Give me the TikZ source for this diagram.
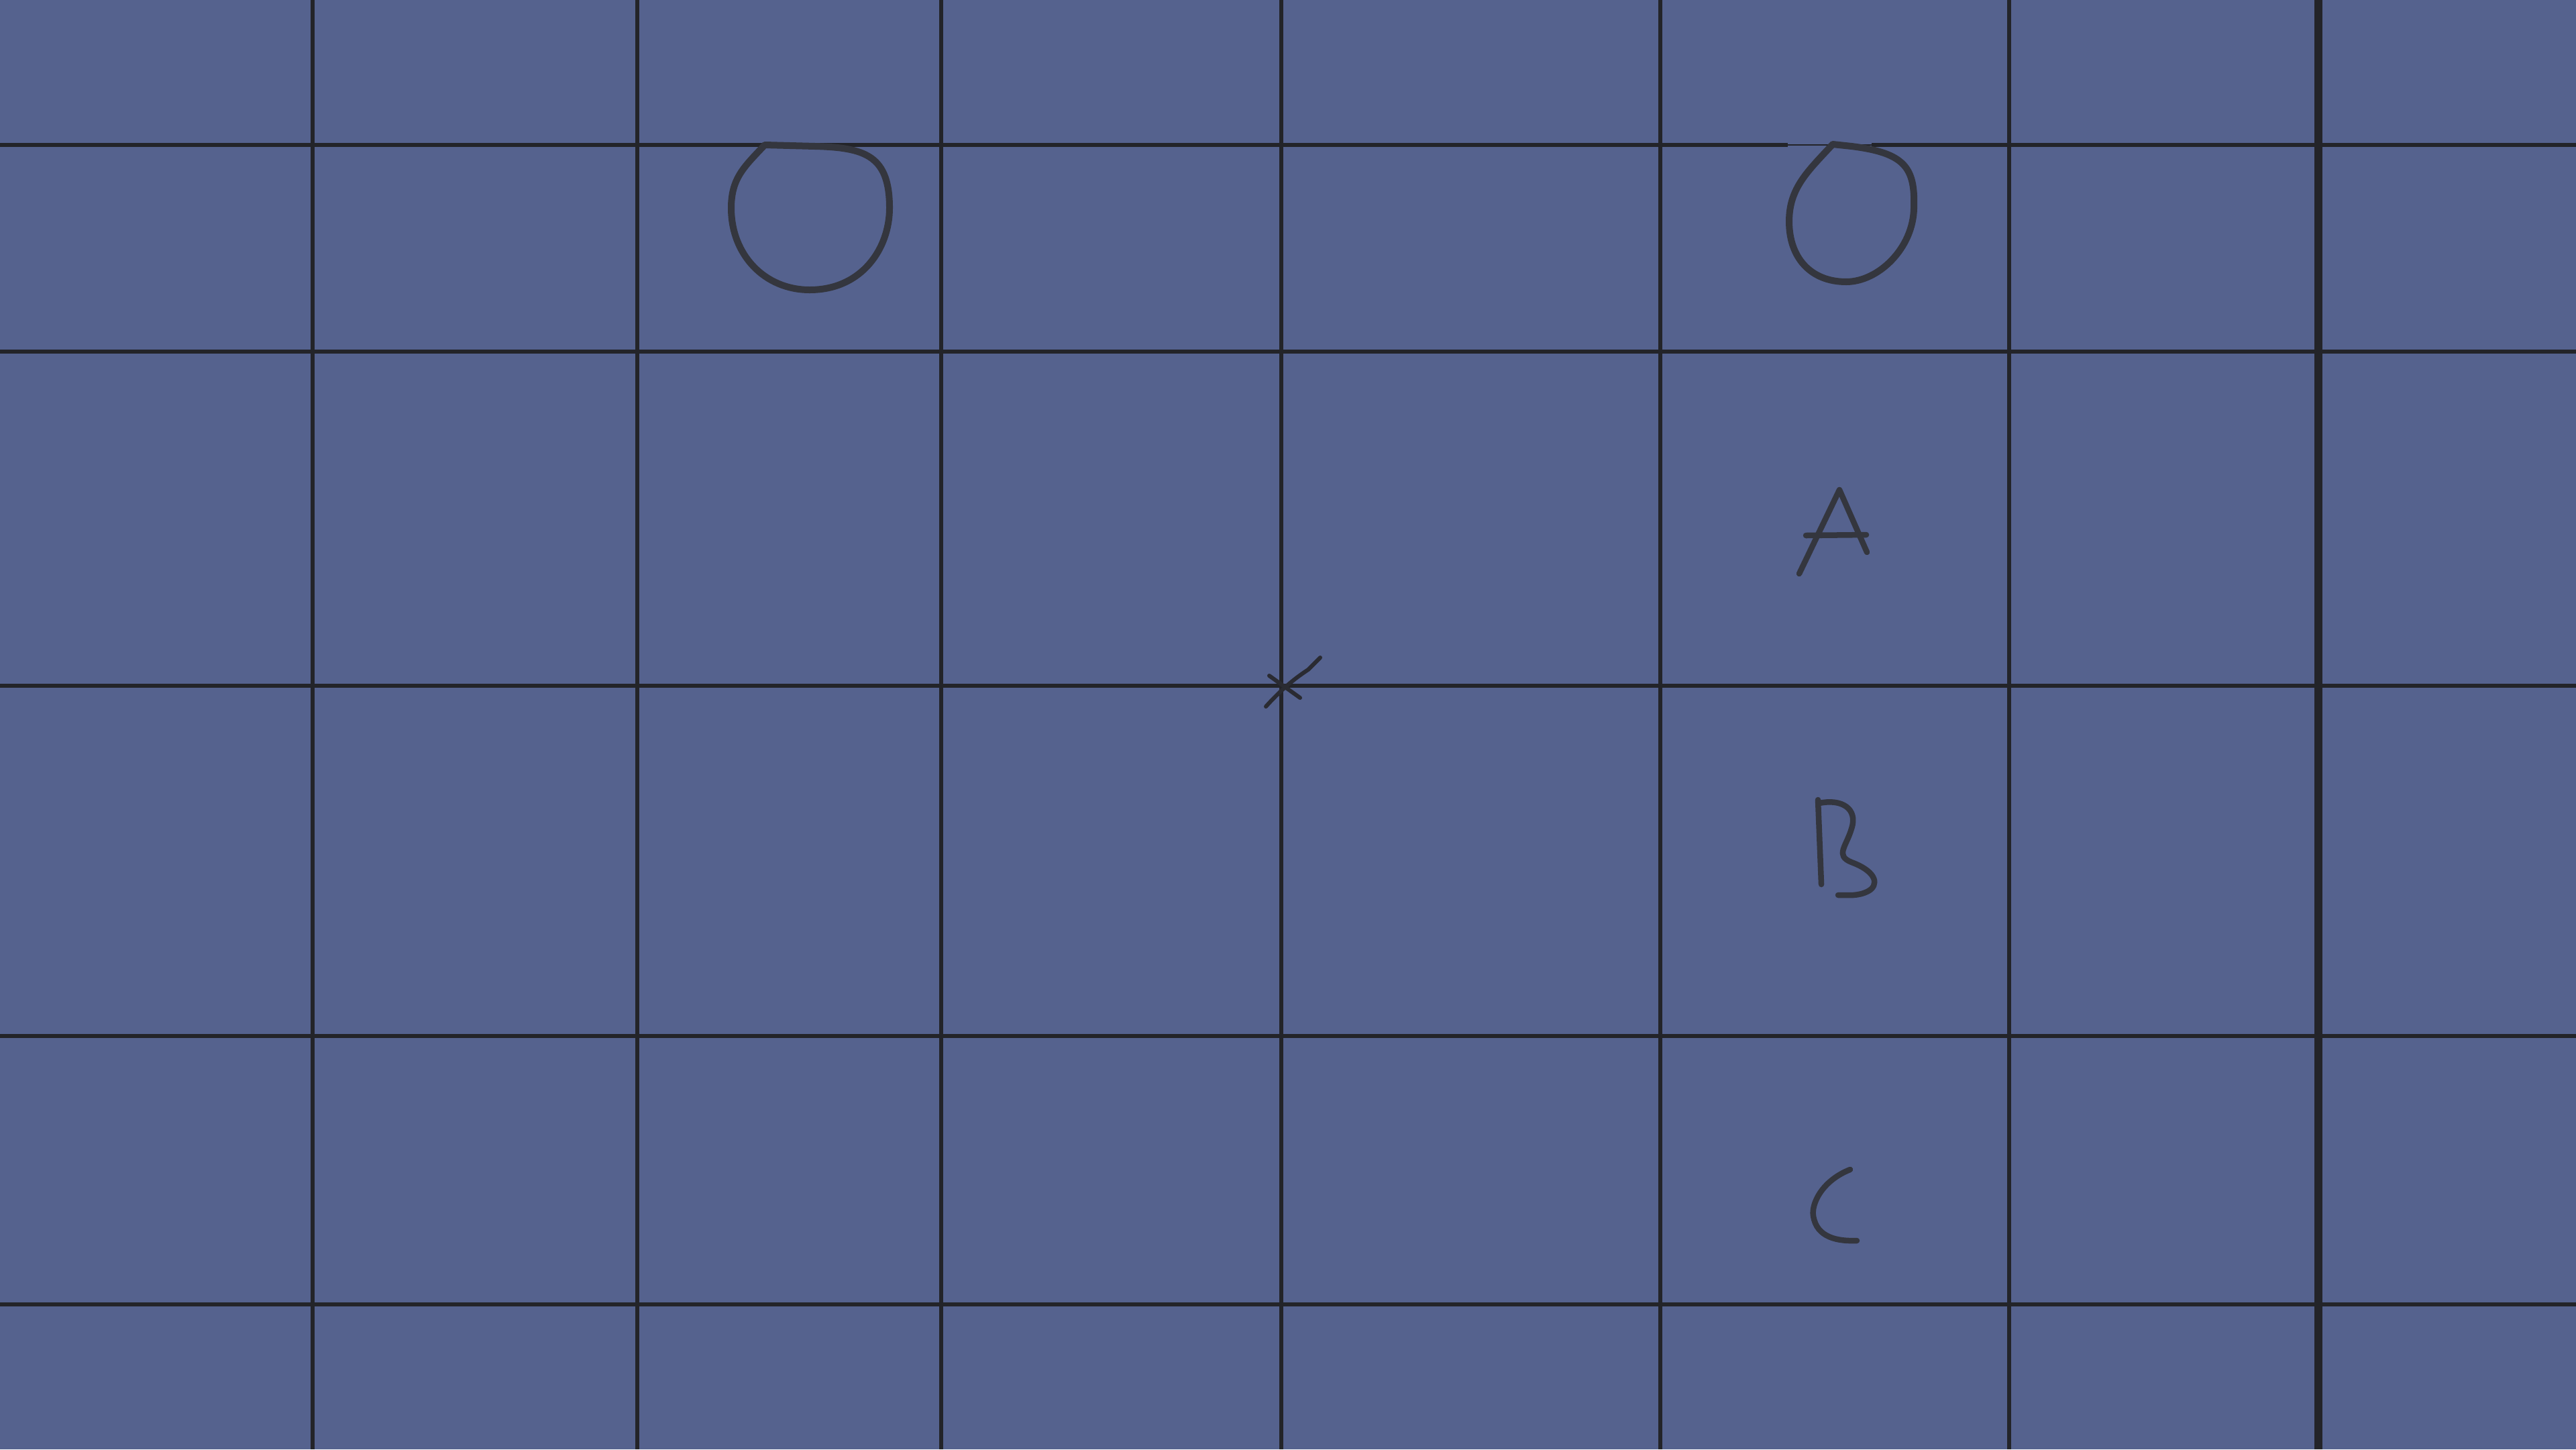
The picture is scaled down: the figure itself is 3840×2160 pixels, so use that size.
\documentclass[tikz,border=0pt]{standalone}
\definecolor{bg}{RGB}{85,98,142}
\definecolor{gridc}{RGB}{35,36,41}
\definecolor{ink}{RGB}{52,54,62}
\begin{document}
\begin{tikzpicture}[x=0.01cm,y=-0.01cm,
  gridline/.style={draw=gridc,line width=0.06cm},
  thickgrid/.style={draw=gridc,line width=0.12cm},
  thingrid/.style={draw=gridc,line width=0.015cm},
  pen/.style={draw=ink,line width=0.1cm,line cap=round,line join=round},
  letterpen/.style={draw=ink,line width=0.085cm,line cap=round,line join=round},
  fine/.style={draw=ink!80!black,line width=0.06cm,line cap=round}]
\useasboundingbox (0,0) rectangle (3840,2160);
\fill[bg] (0,0) rectangle (3840,2160);
% vertical grid lines
\foreach \x in {466,950,1403,1910,2475,2995}
  \draw[gridline] (\x,0) -- (\x,2160);
\draw[thickgrid] (3456,0) -- (3456,2160);
% horizontal grid lines
\draw[gridline] (0,216) -- (2665,216);
\draw[thingrid] (2665,216) -- (2790,216);
\draw[gridline] (2790,216) -- (3840,216);
\foreach \y in {524,1022,1544,1944}
  \draw[gridline] (0,\y) -- (3840,\y);
% circle 1
\draw[pen] (1140,216) -- (1215,218)
  .. controls (1290,220) and (1326,232) .. (1326,310)
  .. controls (1326,370) and (1285,432) .. (1207,432)
  .. controls (1140,432) and (1090,380) .. (1090,310)
  .. controls (1090,265) and (1110,248) .. (1140,216);
% circle 2
\draw[pen] (2732,215) -- (2760,218)
  .. controls (2840,228) and (2855,250) .. (2853,310)
  .. controls (2852,370) and (2800,420) .. (2752,420)
  .. controls (2700,420) and (2667,385) .. (2667,330)
  .. controls (2667,280) and (2695,255) .. (2732,215);
% A
\draw[letterpen] (2682,855) -- (2742,730) -- (2783,823);
\draw[letterpen] (2692,798) -- (2782,797);
% B
\draw[letterpen] (2710,1192) -- (2715,1318);
\draw[letterpen] (2712,1197) .. controls (2745,1190) and (2770,1205) .. (2760,1235)
  .. controls (2752,1262) and (2735,1275) .. (2760,1285)
  .. controls (2800,1300) and (2800,1320) .. (2785,1328)
  .. controls (2770,1336) and (2755,1334) .. (2740,1334);
% C
\draw[letterpen] (2758,1743) .. controls (2715,1760) and (2700,1795) .. (2703,1812)
  .. controls (2708,1845) and (2740,1850) .. (2768,1849);
% cross
\draw[fine] (1892,1007) -- (1938,1040);
\draw[fine] (1887,1053) .. controls (1915,1022) and (1935,1008) .. (1950,998) -- (1968,980);
\end{tikzpicture}
\end{document}
